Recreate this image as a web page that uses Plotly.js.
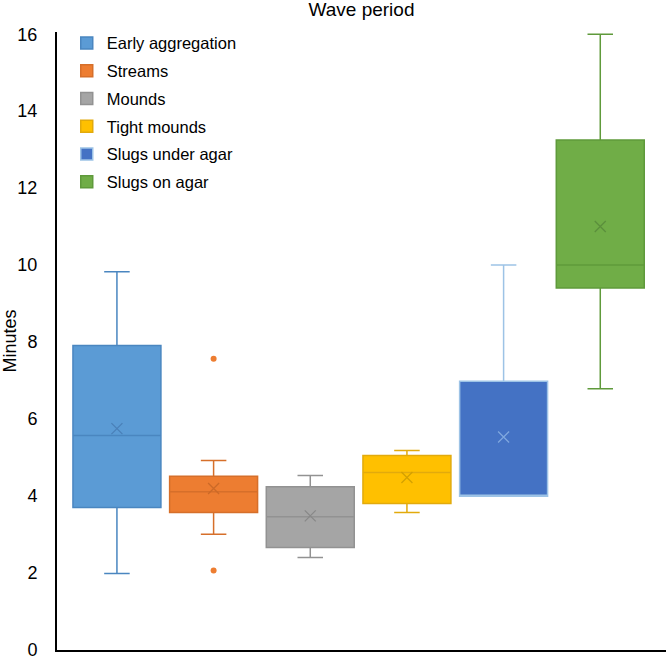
<!DOCTYPE html>
<html>
<head>
<meta charset="utf-8">
<script src="https://cdn.plot.ly/plotly-3.0.1.min.js"></script>
<style>html,body{margin:0;padding:0;background:#fff;}#chart{width:666px;height:659px;}</style>
</head>
<body>
<div id="chart"></div>
<script>
// Data (minutes)
const groups      = ["Early aggregation", "Streams", "Mounds", "Tight mounds", "Slugs under agar", "Slugs on agar"];
const lowerWhisk  = [1.97, 2.99, 2.39, 3.56, 4.00, 6.78];
const q1Values    = [3.69, 3.56, 2.65, 3.79, 3.98, 9.40];
const medians     = [5.56, 4.10, 3.45, 4.60, 3.98, 10.00];
const q3Values    = [7.90, 4.50, 4.23, 5.04, 6.97, 13.25];
const upperWhisk  = [9.82, 4.91, 4.52, 5.17, 10.00, 16.00];
const means       = [5.74, 4.18, 3.47, 4.47, 5.52, 11.00];
const outlierGroup = [1, 1];
const outlierVals  = [7.56, 2.05];
const yTicks = [0, 2, 4, 6, 8, 10, 12, 14, 16];

const fills     = ["#5B9BD5", "#ED7D31", "#A5A5A5", "#FFC000", "#4472C4", "#70AD47"];
const lines     = ["#4A86C0", "#D66F2A", "#929292", "#E2AA0C", "#9DC3E6", "#5F9A3B"];
const meanCols  = ["#4A80B8", "#CC6A28", "#888888", "#D4A000", "#7FA8DE", "#5B8F3C"];

const traces = [];
groups.forEach((g, i) => {
  traces.push({
    type: "box",
    name: g,
    legendgroup: "g" + i,
    x: [i],
    q1: [q1Values[i]],
    median: [medians[i]],
    q3: [q3Values[i]],
    lowerfence: [lowerWhisk[i]],
    upperfence: [upperWhisk[i]],
    width: 0.91,
    whiskerwidth: 0.29,
    fillcolor: fills[i],
    line: {color: lines[i], width: 1.5},
    boxpoints: false,
    hoverinfo: "skip"
  });
  traces.push({
    type: "scatter",
    mode: "markers",
    x: [i],
    y: [means[i]],
    showlegend: false,
    legendgroup: "g" + i,
    marker: {symbol: "x-thin", size: 11, line: {width: 1.3, color: meanCols[i]}},
    hoverinfo: "skip"
  });
});
traces.push({
  type: "scatter",
  mode: "markers",
  x: outlierGroup,
  y: outlierVals,
  showlegend: false,
  marker: {symbol: "circle", size: 6, color: "#ED7D31"},
  hoverinfo: "skip"
});

const font = "Liberation Sans, Arial, Helvetica, sans-serif";
const layout = {
  width: 666,
  height: 659,
  margin: {l: 57, r: 0, t: 32, b: 9},
  paper_bgcolor: "#ffffff",
  plot_bgcolor: "#ffffff",
  font: {family: font, color: "#000000"},
  title: {
    text: "Wave period",
    font: {size: 19, family: font, color: "#000"},
    x: 0.5, xref: "paper", xanchor: "center",
    y: 0.986, yref: "container", yanchor: "middle"
  },
  showlegend: true,
  legend: {
    x: 0.016, y: 1.01, xanchor: "left", yanchor: "top",
    font: {size: 16.5, family: font, color: "#000"},
    bgcolor: "rgba(0,0,0,0)",
    traceorder: "grouped",
    tracegroupgap: 3.3
  },
  xaxis: {
    range: [-0.62, 5.68],
    showgrid: false, zeroline: false,
    showline: true, linecolor: "#000", linewidth: 2,
    showticklabels: false, ticks: ""
  },
  yaxis: {
    range: [-0.02, 16.06],
    tickvals: yTicks,
    ticktext: yTicks.map(String),
    showgrid: false, zeroline: false,
    showline: true, linecolor: "#000", linewidth: 2,
    ticks: "",
    ticklabelstandoff: 14,
    ticklabeloverflow: "allow",
    tickfont: {size: 18, family: font, color: "#000"},
    title: {text: "Minutes", font: {size: 18, family: font, color: "#000"}, standoff: 18}
  }
};

Plotly.newPlot("chart", traces, layout, {displayModeBar: false, staticPlot: true});
</script>
</body>
</html>
